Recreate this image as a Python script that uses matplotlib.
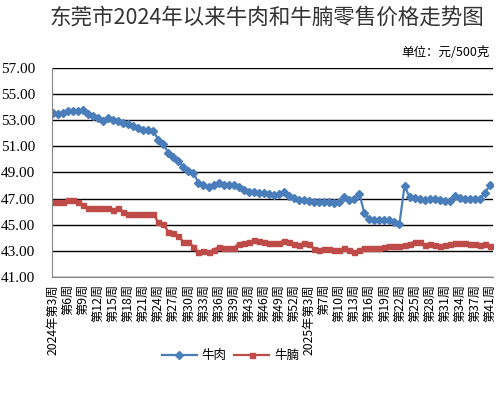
import matplotlib
matplotlib.use("Agg")
import matplotlib.pyplot as plt
from matplotlib.transforms import ScaledTranslation

plt.rcParams['font.family'] = ['Noto Sans CJK SC', 'DejaVu Sans']

# weeks shown on the category axis
weeks_2024 = list(range(3, 41)) + list(range(42, 53))
weeks_2025 = [1, 2, 3, 4, 6] + list(range(7, 40)) + [41]

beef = [53.53, 53.45, 53.53, 53.66, 53.68, 53.68, 53.78, 53.45, 53.28, 53.13,
        52.95, 53.15, 53.00, 52.90, 52.77, 52.70, 52.57, 52.42, 52.24, 52.24,
        52.19, 51.50, 51.18, 50.50, 50.16, 49.90, 49.40, 49.08, 48.97, 48.20,
        48.06, 47.86, 48.00, 48.16, 48.06, 48.00, 48.00, 47.90, 47.66, 47.53,
        47.50, 47.45, 47.45, 47.33, 47.30, 47.35, 47.50, 47.20, 47.05, 46.87,
        46.85, 46.80, 46.70, 46.70, 46.70, 46.70, 46.62, 46.70, 47.10, 46.85,
        46.95, 47.38, 45.90, 45.40, 45.33, 45.35, 45.38, 45.33, 45.23, 45.08,
        47.96, 47.13, 47.05, 47.00, 46.92, 46.95, 46.95, 46.85, 46.80, 46.80,
        47.18, 47.05, 47.00, 47.00, 46.95, 46.95, 47.45, 48.00]

brisket = [46.72, 46.72, 46.72, 46.92, 46.92, 46.72, 46.50, 46.25, 46.25, 46.25,
           46.25, 46.25, 46.13, 46.27, 46.00, 45.85, 45.85, 45.85, 45.85, 45.85,
           45.80, 45.22, 45.04, 44.47, 44.34, 44.14, 43.68, 43.68, 43.33, 42.92,
           43.00, 42.90, 43.08, 43.28, 43.18, 43.23, 43.23, 43.53, 43.60, 43.68,
           43.80, 43.76, 43.70, 43.60, 43.63, 43.63, 43.76, 43.66, 43.56, 43.48,
           43.60, 43.50, 43.15, 43.08, 43.15, 43.15, 43.08, 43.08, 43.18, 43.03,
           42.90, 43.10, 43.23, 43.23, 43.18, 43.18, 43.28, 43.38, 43.38, 43.38,
           43.48, 43.56, 43.68, 43.66, 43.43, 43.56, 43.48, 43.40, 43.45, 43.56,
           43.60, 43.60, 43.60, 43.53, 43.53, 43.43, 43.53, 43.35]

labels = []
for i, w in enumerate(weeks_2024):
    labels.append(('2024年' if i == 0 else '') + '第%d周' % w)
for w in weeks_2025:
    labels.append(('2025年' if w == 3 else '') + '第%d周' % w)

x = list(range(len(labels)))

fig = plt.figure(figsize=(4.99, 3.94), dpi=100)
ax = fig.add_axes([0.1036, 0.297, 0.8838, 0.531])

ax.plot(x, beef, color='#4a7ebb', lw=1.6, marker='D', markersize=4.2, label='牛肉')
ax.plot(x, brisket, color='#be4b48', lw=1.6, marker='s', markersize=3.6, label='牛腩')

ax.set_ylim(41, 57)
ax.set_yticks(range(41, 58, 2))
ax.set_yticklabels(['%.2f' % v for v in range(41, 58, 2)], family='Liberation Serif', fontsize=11)
ax.set_xlim(-0.2, 87.55)
ax.set_xticks(x[::3])
ax.set_xticklabels(labels[::3], rotation=90, fontsize=8.8, va='top', ha='center')
off = ScaledTranslation(-0.045, 0, fig.dpi_scale_trans)
for t in ax.get_xticklabels():
    t.set_transform(t.get_transform() + off)
ax.tick_params(length=0, pad=5)
ax.tick_params(axis='y', pad=12)

ax.grid(axis='y', color='black', lw=1.0)
ax.set_axisbelow(True)
for s in ['top', 'right']:
    ax.spines[s].set_visible(False)
ax.spines['left'].set_color('#868686')
ax.spines['bottom'].set_color('#868686')

fig.text(0.535, 0.956, '东莞市2024年以来牛肉和牛腩零售价格走势图', ha='center', va='center',
         fontsize=15.5, color='#333333')
fig.text(0.982, 0.866, '单位：元/500克', ha='right', va='center', fontsize=9)

fig.legend(loc='center', bbox_to_anchor=(0.462, 0.098), ncol=2, frameon=False,
           fontsize=9, handlelength=2.8, handletextpad=0.4, columnspacing=0.6)

fig.savefig('out.png', dpi=100)
